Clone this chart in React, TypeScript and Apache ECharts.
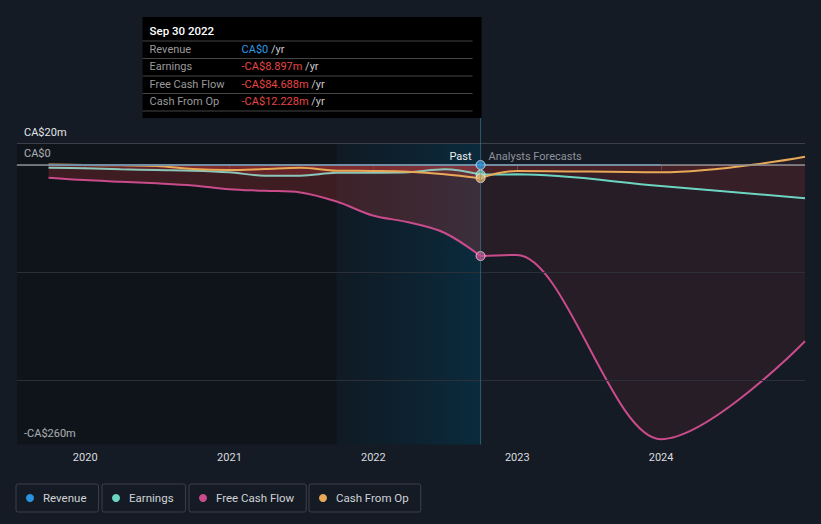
import React, { useEffect, useRef } from 'react';
import * as echarts from 'echarts';

const pastDates = ['2019-09-30', '2019-12-31', '2020-03-31', '2020-06-30', '2020-09-30', '2020-12-31', '2021-03-31', '2021-06-30', '2021-09-30', '2021-12-31', '2022-03-31', '2022-06-30', '2022-09-30'];
const revenuePast = [0, 0, 0, 0, 0, 0, 0, 0, 0, 0, 0, 0, 0];
const earningsPast = [-2.5, -3.1, -4, -4.7, -5.3, -6.8, -9.9, -9.9, -7.3, -7.2, -6.8, -4, -8.897];
const fcfPast = [-11.8, -14, -15.5, -17, -19, -22.5, -24, -25.5, -34, -47, -53.3, -63, -84.688];
const cfoPast = [0.5, 0, -0.3, -0.9, -3.7, -4.7, -3.7, -2.5, -5.3, -5.5, -6.2, -8.5, -12.228];

const forecastDates = ['2022-09-30', '2022-12-31', '2023-12-31', '2024-12-31'];
const revenueForecast = [0, 0, 0];
const earningsForecast = [-8.897, -8.7, -19.5, -31];
const fcfForecast = [-84.688, -83.7, -255, -164];
const cfoForecast = [-12.228, -5.5, -6.8, 7.7];

const seriesNames = ['Revenue', 'Earnings', 'Free Cash Flow', 'Cash From Op'];
const seriesColors = ['#2a93e0', '#6cd5c2', '#c94b8c', '#e9aa57'];
const pastLineColors = ['#2a93e0', '#8cc6b9', '#c94b8c', '#e9aa57'];
const tooltipDate = 'Sep 30 2022';
const tooltipValues = ['CA$0', '-CA$8.897m', '-CA$84.688m', '-CA$12.228m'];
const tooltipValueColors = ['#2d9be6', '#e84545', '#e84545', '#e84545'];

const yMin = -260;
const yMax = 20;
const yStep = 20;
const yLabelled: Record<string, string> = { '20': 'CA$20m', '0': 'CA$0', '-260': '-CA$260m' };
const gridValues = [20, -100, -200];
const xMin = '2019-07-12';
const xMax = '2024-12-31';
const highlightStart = '2021-09-30';

const ts = (s: string) => {
  const [y, m, d] = s.split('-').map(Number);
  return new Date(y, m - 1, d).getTime();
};
const pairs = (dates: string[], vals: number[]) => vals.map((v, i) => [ts(dates[i]), v]);

const FONT = 'Roboto, "Noto Sans", sans-serif';

export default function App() {
  const ref = useRef<HTMLDivElement>(null);
  useEffect(() => {
    if (!ref.current) return;
    const chart = echarts.init(ref.current, null, { renderer: 'svg' });
    const pastFill = 'rgba(220,60,60,0.33)';
    const fcFill = 'rgba(220,60,60,0.13)';

    const mk = (idx: number, data: number[][], fill: string | null, color: string, extra: any = {}) => ({
      type: 'line',
      name: seriesNames[idx],
      data,
      color: seriesColors[idx],
      showSymbol: false,
      symbol: 'none',
      smooth: 0.35,
      lineStyle: { color, width: 2 },
      itemStyle: { color: seriesColors[idx] },
      areaStyle: fill ? { color: fill } : undefined,
      z: 3,
      ...extra,
    });

    const last = pastDates.length - 1;
    const option: any = {
      animation: false,
      backgroundColor: '#151b25',
      textStyle: { fontFamily: FONT },
      grid: { left: 17, right: 16, top: 143.5, bottom: 79.5 },
      xAxis: {
        type: 'time',
        min: ts(xMin),
        max: ts(xMax),
        minInterval: 365 * 24 * 3600 * 1000,
        splitLine: { show: false },
        axisLine: { show: true, lineStyle: { color: '#4a4e57', width: 1 } },
        axisTick: { show: true, length: 5, lineStyle: { color: '#4a4e57' } },
        axisLabel: {
          color: '#d9dbde',
          fontSize: 11,
          fontFamily: FONT,
          margin: 7,
          formatter: (v: number) => String(new Date(v).getFullYear()),
        },
      },
      yAxis: {
        type: 'value',
        min: yMin,
        max: yMax,
        interval: yStep,
        splitLine: { show: false },
        axisLine: { show: false },
        axisTick: { show: false },
        axisLabel: {
          inside: true,
          margin: 7,
          verticalAlign: 'bottom',
          padding: [0, 0, 6, 0],
          color: '#e2e4e7',
          fontSize: 11,
          fontFamily: FONT,
          formatter: (v: number) => yLabelled[String(v)] || '',
        },
      },
      legend: seriesNames.map((n, i) => ({
        data: [n],
        left: [16, 102, 189, 309][i],
        top: 484,
        orient: 'horizontal',
        icon: 'circle',
        itemWidth: 8,
        itemHeight: 8,
        padding: [8, 12, 8, 10],
        borderColor: '#3b3f48',
        borderWidth: 1,
        borderRadius: 2,
        selectedMode: false,
        textStyle: { color: '#cfd2d6', fontSize: 11.5, fontFamily: FONT, padding: [0, 0, 0, 4] },
      })),
      series: [
        {
          type: 'line',
          name: 'bg',
          data: [],
          z: 1,
          silent: true,
          markArea: {
            silent: true,
            data: [
              [
                { xAxis: ts(xMin), itemStyle: { color: 'rgba(0,0,0,0.25)' } },
                { xAxis: ts(highlightStart) },
              ],
              [
                {
                  xAxis: ts(highlightStart),
                  itemStyle: {
                    color: new echarts.graphic.LinearGradient(0, 0, 1, 0, [
                      { offset: 0, color: 'rgba(5,25,35,0.35)' },
                      { offset: 1, color: 'rgba(0,60,85,0.5)' },
                    ]),
                  },
                },
                { xAxis: ts(pastDates[last]) },
              ],
            ],
          },
          markLine: {
            silent: true,
            symbol: 'none',
            label: { show: false },
            data: [
              ...gridValues.map((v) => ({
                yAxis: v,
                lineStyle: { color: v === 20 ? '#3c3f47' : '#2b2f37', width: 1, type: 'solid' },
              })),
              { yAxis: 0, lineStyle: { color: '#8c8c90', width: 1.5, type: 'solid' } },
            ],
          },
        },
        mk(2, pairs(pastDates, fcfPast), pastFill, pastLineColors[2]),
        mk(1, pairs(pastDates, earningsPast), pastFill, pastLineColors[1]),
        mk(3, pairs(pastDates, cfoPast), pastFill, pastLineColors[3]),
        mk(2, pairs(forecastDates, fcfForecast), fcFill, seriesColors[2], { smooth: 0.33, smoothMonotone: 'x' }),
        mk(1, pairs(forecastDates, earningsForecast), fcFill, seriesColors[1]),
        mk(3, pairs(forecastDates, cfoForecast), fcFill, seriesColors[3], { smooth: 0.4, smoothMonotone: 'x' }),
        mk(0, pairs(pastDates, revenuePast), null, pastLineColors[0], { z: 4 }),
        mk(0, pairs(forecastDates, revenueForecast), null, seriesColors[0], { z: 4 }),
        {
          type: 'scatter',
          name: 'current',
          z: 6,
          symbolSize: 9,
          data: [revenuePast, earningsPast, fcfPast, cfoPast].map((arr, i) => ({
            value: [ts(pastDates[last]), arr[last]],
            itemStyle: { color: seriesColors[i], borderColor: '#e6e6e6', borderWidth: 1 },
          })),
        },
      ],
    };
    chart.setOption(option);

    const px = chart.convertToPixel({ xAxisIndex: 0 }, ts(pastDates[last])) as number;
    const yTop = chart.convertToPixel({ yAxisIndex: 0 }, yMax) as number;
    const yBottom = chart.convertToPixel({ yAxisIndex: 0 }, yMin) as number;
    const boxW = 339;
    const boxTop = 17;
    const boxH = 101;
    const bx = px - boxW + 1;
    const rowYs = [49, 66.5, 84, 101.5];
    const sepYs = [41, 58.5, 76, 93.5, 111];
    const elements: any[] = [
      {
        type: 'line',
        shape: { x1: px, y1: boxTop + boxH, x2: px, y2: yBottom },
        style: { stroke: 'rgba(70,150,180,0.5)', lineWidth: 1 },
        z: 10,
      },
      { type: 'rect', shape: { x: bx, y: boxTop, width: boxW, height: boxH }, style: { fill: '#000' }, z: 11 },
      {
        type: 'text',
        x: bx + 7,
        y: 31,
        z: 12,
        style: { text: tooltipDate, fill: '#ffffff', fontSize: 11.5, fontWeight: 500, fontFamily: FONT, verticalAlign: 'middle' },
      },
      ...sepYs.map((y) => ({
        type: 'line',
        z: 12,
        shape: { x1: bx, y1: y, x2: px - 8, y2: y },
        style: { stroke: '#444', lineWidth: 1 },
      })),
      ...seriesNames.map((n, i) => ({
        type: 'text',
        x: bx + 7,
        y: rowYs[i],
        z: 12,
        style: { text: n, fill: '#9a9a9a', fontSize: 11, fontFamily: FONT, verticalAlign: 'middle' },
      })),
      ...tooltipValues.map((v, i) => ({
        type: 'text',
        x: bx + 99,
        y: rowYs[i],
        z: 12,
        style: {
          text: `{v|${v}} {u|/yr}`,
          verticalAlign: 'middle',
          fontSize: 11,
          fontFamily: FONT,
          rich: {
            v: { fill: tooltipValueColors[i], fontSize: 11, fontFamily: FONT },
            u: { fill: '#c8c8c8', fontSize: 11, fontFamily: FONT },
          },
        },
      })),
      {
        type: 'text',
        x: px - 9,
        y: yTop + 12.5,
        z: 12,
        style: { text: 'Past', fill: '#f0f0f0', fontSize: 11, fontFamily: FONT, align: 'right', verticalAlign: 'middle' },
      },
      {
        type: 'text',
        x: px + 8,
        y: yTop + 12.5,
        z: 12,
        style: { text: 'Analysts Forecasts', fill: '#8d929a', fontSize: 11, fontFamily: FONT, align: 'left', verticalAlign: 'middle' },
      },
    ];
    chart.setOption({ graphic: { elements } });

    return () => chart.dispose();
  }, []);
  return (
    <div
      ref={ref}
      style={{ position: 'absolute', left: 0, top: 0, width: 821, height: 524, background: '#151b25' }}
    />
  );
}
